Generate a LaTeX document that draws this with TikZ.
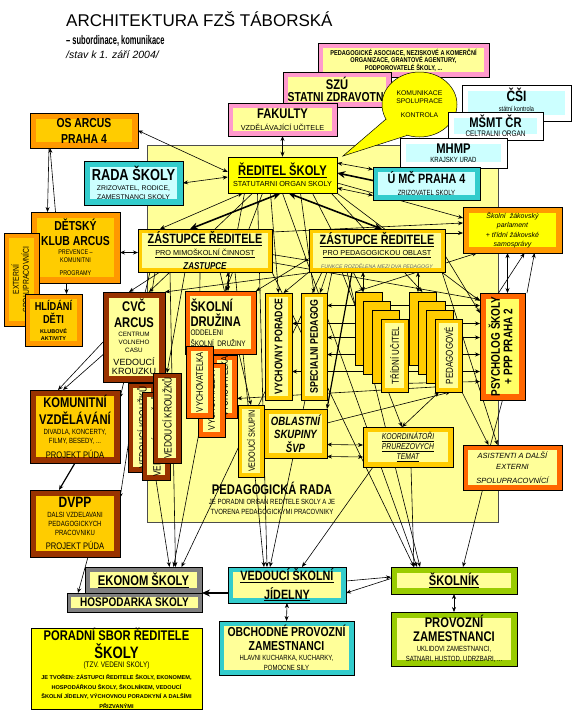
\documentclass[tikz,border=0pt]{standalone}
\usepackage{fontspec}
\usepackage{graphicx}
\setmainfont{Liberation Sans}
\newfontfamily\nar[FakeStretch=0.8]{Liberation Sans}
\newfontfamily\vnar[FakeStretch=0.6]{Liberation Sans}
\usetikzlibrary{arrows.meta,calc,shapes.geometric}
\pgfdeclarelayer{bgl}\pgfdeclarelayer{lnl}\pgfsetlayers{bgl,lnl,main}
\definecolor{cOr}{HTML}{FF9900}
\definecolor{cGo}{HTML}{FFCC00}
\definecolor{cLy}{HTML}{FFFF99}
\definecolor{cYe}{HTML}{FFFF00}
\definecolor{cBr}{HTML}{993300}
\definecolor{cRo}{HTML}{FF6600}
\definecolor{cTe}{HTML}{33CCCC}
\definecolor{cCy}{HTML}{CCFFFF}
\definecolor{cPk}{HTML}{FF99CC}
\definecolor{cGr}{HTML}{808080}
\definecolor{cGn}{HTML}{99CC00}
\definecolor{cPy}{HTML}{FFFF66}
\newcommand\hb[1]{\fontsize{#1}{#1}\selectfont\bfseries}
\newcommand\sm[1]{\fontsize{#1}{#1}\selectfont\mdseries\upshape}
\newcommand\sw[1]{\rmfamily\fontsize{#1}{#1}\selectfont\mdseries\upshape}
\newcommand\rot[1]{\rotatebox{90}{#1}}
\newcommand\tightf{\nar\fontsize{10}{0}\selectfont\lineskiplimit=0pt\lineskip=2pt}
\tikzset{
  bx/.style n args={3}{draw=black, line width=0.5pt, fill=#1, inner sep=0pt, outer sep=0pt,
    align=center, font=\tightf, text=black,
    path picture={\fill[#2] ([xshift=#3,yshift=-#3]path picture bounding box.north west)
      rectangle ([xshift=-#3,yshift=#3]path picture bounding box.south east);}},
  sz/.style 2 args={minimum width=#1pt, minimum height=#2pt},
  >={Stealth[length=5pt,width=4pt]},
  ln/.style={line width=0.6pt},
  tk/.style={line width=1.6pt, >={Stealth[length=8pt,width=7pt]}},
}
\begin{document}
\begin{tikzpicture}[x=1pt,y=-1pt]
\useasboundingbox (0,0) rectangle (573,716);
\begin{pgfonlayer}{bgl}
\fill[white] (0,0) rectangle (573,716);
\filldraw[fill=cLy, draw=black!70, line width=0.5pt] (147,145) rectangle (498,522);
\end{pgfonlayer}

% titles
\node[anchor=west, inner sep=0pt] (title) at (66,19) {\fontsize{17}{17}\selectfont ARCHITEKTURA FZŠ TÁBORSKÁ};
\node[anchor=west, inner sep=0pt] (sub) at (66,41) {\vnar\fontsize{12.5}{12}\selectfont\bfseries – subordinace, komunikace};
\node[anchor=west, inner sep=0pt] (stav) at (66,55) {\fontsize{10.5}{11}\selectfont\itshape /stav k 1. září 2004/};

% top boxes
\node[bx={cPk}{cLy}{5pt}, sz={171}{34}, font=\nar\fontsize{7}{7.5}\selectfont\bfseries] (assoc) at (403.5,60) {PEDAGOGICKÉ ASOCIACE, NEZISKOVÉ A KOMERČNÍ\\ORGANIZACE, GRANTOVÉ AGENTURY,\\PODPOROVATELÉ ŠKOLY, ...};
\node[bx={cPk}{cLy}{5pt}, sz={108}{35}] (szu) at (337,89.5) {\hb{14}SZÚ\\[1pt]\hb{13}STATNI ZDRAVOTNI};
\node[bx={cPk}{cLy}{5pt}, sz={109}{33}] (fak) at (282.5,119.5) {\hb{14}FAKULTY\\[3pt]\sw{7.3}VZDĚLÁVAJÍCÍ UČITELE};
\node[ellipse, draw=black, line width=0.5pt, fill=cYe, minimum width=75pt, minimum height=65pt, inner sep=0pt, align=center, font=\rmfamily\fontsize{6.8}{8}\selectfont] (bub) at (419.5,104.5) {KOMUNIKACE\\SPOLUPRACE\\[6pt]KONTROLA};
\fill[cYe] ($(bub.center)+(-33.5,14.6)$) -- (343,156) -- ($(bub.center)+(-12,30.8)$) -- cycle;
\draw[line width=0.5pt] ($(bub.center)+(-33.5,14.6)$) -- (343,156) -- ($(bub.center)+(-12,30.8)$);
\node[bx={white}{cCy}{6pt}, sz={109}{36}] (csi) at (516.5,103) {\hb{15}ČŠI\\[3pt]\sm{7}státní kontrola\\[5pt]};
\node[bx={white}{cCy}{6pt}, sz={95}{28}] (msmt) at (495.5,126) {\hb{14}MŠMT ČR\\[1pt]\sm{8}CELTRALNI ORGAN};
\node[bx={white}{cCy}{6pt}, sz={107}{30}] (mhmp) at (453.5,153) {\hb{14}MHMP\\[2pt]\sm{7.5}KRAJSKY URAD};
\node[bx={cTe}{cCy}{5pt}, sz={107}{33}] (umc) at (426.5,183.5) {\hb{13.5}Ú MČ PRAHA 4\\[4pt]\sm{7.5}ZRIZOVATEL SKOLY};
\node[draw=black, line width=0.5pt, fill=cYe, sz={109}{36}, inner sep=0pt, align=center, font=\tightf] (red) at (282.5,175) {\hb{14}\underline{ŘEDITEL ŠKOLY}\\[2pt]\sw{7.3}STATUTARNI ORGAN SKOLY};

% left column
\node[bx={cOr}{cGo}{6pt}, sz={108}{35}, font=\nar\fontsize{13}{16}\selectfont\bfseries] (osa) at (84,130.5) {OS ARCUS\\PRAHA 4};
\node[bx={cTe}{cCy}{6pt}, sz={99}{44}] (rada) at (133.5,183) {\hb{16}RADA ŠKOLY\\[3pt]\sw{6.8}ZRIZOVATEL, RODICE,\\[2pt]\sw{6.8}ZAMESTNANCI SKOLY};
\node[bx={cOr}{cGo}{6pt}, sz={89}{71}] (klub) at (75.5,247.5) {\hb{13}DĚTSKÝ\\[3pt]\hb{13}KLUB ARCUS\\[2pt]\sm{6.8}PREVENCE –\\[2pt]\sm{6.8}KOMUNITNI\\[6pt]\sm{6.8}PROGRAMY};
\node[bx={cOr}{cGo}{5pt}, sz={35}{93}] (ext) at (21.5,279.5) {\rot{\sm{8.5}\begin{tabular}{@{}c@{}}EXTERNÍ\\SPOLUPRACOVNÍCI\end{tabular}}};
\node[bx={cOr}{cGo}{5pt}, sz={57}{52}] (hlid) at (53.5,320) {\hb{11.5}HLÍDÁNÍ\\[1pt]\hb{11.5}DĚTI\\[3pt]\sw{5.5}\bfseries KLUBOVÉ\\[1pt]\sw{5.5}\bfseries AKTIVITY};
\node[bx={cBr}{cLy}{6pt}, sz={62}{90}] (cvc) at (134,337) {\hb{14}CVČ\\[4pt]\hb{14}ARCUS\\[2pt]\sw{6.3}CENTRUM\\[1.5pt]\sw{6.3}VOLNEHO\\[1.5pt]\sw{6.3}CASU\\[3pt]\sw{9}VEDOUCÍ\\[1pt]\sw{9}KROUZKU};
\node[bx={cBr}{cLy}{5pt}, sz={28}{89}] (k1) at (142,427.5) {\rot{\sm{10.5}VEDOUCÍ KROUŽKŮ}};
\node[bx={cBr}{cLy}{5pt}, sz={28}{88}] (k2) at (156,436) {\rot{\sm{10.5}VEDOUCÍ KROUŽKŮ}};
\node[bx={cBr}{cLy}{5pt}, sz={28}{90}] (k3) at (167,418) {\rot{\sm{10.5}VEDOUCÍ KROUŽKŮ}};
\node[bx={cBr}{cGo}{6pt}, sz={90}{73}] (kom) at (75,426.5) {\hb{14}KOMUNITNÍ\\[3pt]\hb{14}VZDĚLÁVÁNÍ\\[2pt]\sm{7.5}DIVADLA, KONCERTY,\\[1.5pt]\sm{7.5}FILMY, BESEDY, ...\\[3pt]\sm{9.5}PROJEKT PÚDA};
\node[bx={cBr}{cGo}{6pt}, sz={90}{67}] (dvpp) at (75,523.5) {\hb{15}DVPP\\[3pt]\sm{7.5}DALSI VZDELAVANI\\[1.5pt]\sm{7.5}PEDAGOGICKYCH\\[1.5pt]\sm{7.5}PRACOVNIKU\\[4pt]\sm{9.5}PROJEKT PÚDA};

% zástupci
\node[bx={cGo}{cLy}{4pt}, sz={134}{43}] (zl) at (205,250.5) {\hb{13.5}\underline{ZÁSTUPCE ŘEDITELE}\\[2pt]\sw{7.3}\underline{PRO MIMOŠKOLNÍ ČINNOST}\\[3pt]\hb{10}\itshape ZASTUPCE};
\node[bx={cGo}{cLy}{4pt}, sz={136}{43}] (zr) at (377,250.5) {\hb{13.5}\underline{ZÁSTUPCE ŘEDITELE}\\[2pt]\sw{7.3}\underline{PRO PEDAGOGICKOU OBLAST}\\[4pt]\sw{5.2}\itshape\color{black!60}FUNKCE ROZDĚLENA MEZI DVA PEDAGOGY};

% družina
\node[bx={cRo}{cLy}{5pt}, sz={71}{63}, text width=60pt, align=left] (druz) at (220.5,322.5) {\hb{14}ŠKOLNÍ\\[1pt]\hb{14}DRUŽINA\\[1pt]\sm{8}ODDELENI\\[3pt]\sm{8}ŠKOLNÍ DRUŽINY\\[6pt]};
\node[bx={cRo}{cLy}{5pt}, sz={25}{63}] (v3) at (224.5,386.5) {\rot{\sm{9.5}VYCHOVATELKA}};
\node[bx={cRo}{cLy}{5pt}, sz={27}{74}] (v2) at (211.5,400) {\rot{\sm{9.5}VYCHOVATELKA}};
\node[bx={cRo}{cLy}{5pt}, sz={27}{72}] (v1) at (199.5,382) {\rot{\sm{9.5}VYCHOVATELKA}};

% poradce etc
\node[bx={cGo}{cLy}{4pt}, sz={27}{107}] (vp) at (278.5,346.5) {\rot{\hb{11}VYCHOVNY PORADCE}};
\node[bx={cGo}{cLy}{4pt}, sz={26}{107}] (sp) at (314,346.5) {\rot{\hb{11}SPECIALNI PEDAGOG}};
\node[bx={cGo}{cLy}{4pt}, sz={26}{72}] (vs) at (251,441) {\rot{\sm{9}VEDOUCÍ SKUPIN}};
\node[bx={cGo}{cLy}{5pt}, sz={63}{49}, font=\nar\fontsize{12}{13.5}\selectfont\bfseries\itshape] (obl) at (295.5,433.5) {OBLASTNÍ\\SKUPINY\\ŠVP};

% stacks
\node[bx={cGo}{cGo}{4pt}, sz={27}{73}] (t1) at (368.5,328.5) {};
\node[bx={cGo}{cGo}{4pt}, sz={27}{73}] (t2) at (377,337.5) {};
\node[bx={cGo}{cGo}{4pt}, sz={27}{73}] (t3) at (385.5,346.5) {};
\node[bx={cGo}{cLy}{4pt}, sz={27}{73}] (t4) at (394.5,355.5) {\rot{\sm{10}TŘÍDNÍ UČITEL}};
\node[bx={cGo}{cGo}{4pt}, sz={27}{73}] (p1) at (422.5,328.5) {};
\node[bx={cGo}{cGo}{4pt}, sz={27}{73}] (p2) at (431.5,337.5) {};
\node[bx={cGo}{cGo}{4pt}, sz={27}{73}] (p3) at (439.5,346.5) {};
\node[bx={cGo}{cLy}{4pt}, sz={27}{73}] (p4) at (448.5,355.5) {\rot{\sm{10}PEDAGOGOVÉ}};

% right column
\node[bx={cOr}{cYe}{6pt}, sz={99}{46}, font=\rmfamily\fontsize{7}{9.5}\selectfont\itshape] (parl) at (512.5,230) {Školní~ žákovský\\parlament\\+ třídní žákovské\\samosprávy};
\node[bx={cRo}{cPy}{6pt}, sz={45}{107}] (psy) at (502.5,346.5) {\rot{\hb{12.5}\begin{tabular}{@{}c@{}}PSYCHOLOG ŠKOLY\\+ PPP PRAHA 2\end{tabular}}};
\node[bx={cGo}{cLy}{5pt}, sz={90}{40}, font=\nar\fontsize{8.5}{10}\selectfont\itshape] (koo) at (408,447) {\underline{KOORDINÁTOŘI}\\\underline{PRUREZOVYCH}\\\underline{TEMAT}};
\node[bx={cRo}{cLy}{5pt}, sz={99}{45}, font=\rmfamily\fontsize{7.5}{11}\selectfont\itshape] (asi) at (512.5,467.5) {ASISTENTI A DALŠÍ\\EXTERNI\\[3pt]SPOLUPRACOVNÍCÍ};

\node[inner sep=0pt, align=center, font=\tightf] (prada) at (272,498) {\hb{14}PEDAGOGICKÁ RADA\\[3pt]\sm{7.5}JE PORADNI ORGAN REDITELE SKOLY A JE\\[2pt]\sm{7.5}TVORENA PEDAGOGICKYMI PRACOVNIKY};

% bottom
\node[bx={cGr}{cLy}{5pt}, sz={117}{26}] (eko) at (143.5,580) {\hb{14}\underline{EKONOM ŠKOLY}};
\node[bx={cGr}{cLy}{4pt}, sz={135}{19}] (hosp) at (134.5,602.5) {\hb{12.5}HOSPODARKA SKOLY};
\node[bx={cTe}{cLy}{5pt}, sz={118}{36}] (jid) at (287,585) {\hb{13.5}\underline{VEDOUCÍ ŠKOLNÍ}\\[2pt]\hb{13.5}\underline{JÍDELNY}};
\node[bx={cTe}{cLy}{5pt}, sz={135}{54}] (obch) at (286.5,648) {\hb{13}OBCHODNÉ PROVOZNÍ\\[2pt]\hb{13}ZAMESTNANCI\\[3pt]\sm{7.5}HLAVNI KUCHARKA, KUCHARKY,\\[2pt]\sm{7.5}POMOCNE SILY};
\node[bx={cGn}{cLy}{6pt}, sz={126}{27}] (sko) at (454,580.5) {\hb{14}\underline{ŠKOLNÍK}};
\node[bx={cGn}{cLy}{6pt}, sz={126}{54}] (prov) at (454,639) {\hb{14}PROVOZNÍ\\[2pt]\hb{14}ZAMESTNANCI\\[3pt]\sm{7.5}UKLIDOVI ZAMESTNANCI,\\[2pt]\sm{7.5}SATNARI, HUSTOD, UDRZBARI, ...};
\node[draw=black, line width=0.5pt, fill=cYe, sz={171}{81}, inner sep=0pt, align=center, font=\tightf] (por) at (116.5,668.5) {\hb{14}PORADNÍ SBOR ŘEDITELE\\[1pt]\hb{16.5}ŠKOLY\\[1pt]\sm{8}(TZV. VEDENI SKOLY)\\[3pt]\sw{5.6}\bfseries JE TVOŘEN: ZÁSTUPCI ŘEDITELE ŠKOLY, EKONOMEM,\\[2pt]\sw{5.6}\bfseries HOSPODÁŘKOU ŠKOLY, ŠKOLNÍKEM, VEDOUCÍ\\[2pt]\sw{5.6}\bfseries ŠKOLNÍ JÍDELNY, VÝCHOVNOU PORADKYNÍ A DALŠÍMI\\[2pt]\sw{5.6}\bfseries PŘIZVANÝMI};

\begin{pgfonlayer}{lnl}
\begin{scope}[ln]
% top
\draw[<->] (osa.east) -- ($(red.west)+(0,-3)$);
\draw[<->] (rada.east) -- ($(red.west)+(0,2)$);
\draw[->] ($(osa.south)+(-35,0)$) -- ($(klub.north)+(-28,0)$);
\draw[->] ($(klub.north)+(-20,0)$) -- ($(osa.south)+(-34,0)$);
\draw[<->] ($(klub.east)+(0,5)$) -- ($(zl.west)+(0,2)$);
\draw[->] ($(klub.south)+(-9,0)$) -- ($(hlid.north)+(13,0)$);
\draw[<->] (fak.south) -- (red.north);
\draw[<->] ($(umc.west)+(0,-14)$) -- ($(red.east)+(0,-12)$);
\draw[->,tk] ($(umc.west)+(0,-3)$) -- ($(red.east)+(0,-2)$);
\draw[<->] ($(umc.west)+(0,12)$) -- ($(red.east)+(0,13)$);
% reditel fan
\draw[<->,tk] ($(red.south)+(-2,0)$) -- ($(zl.north)+(-15,0)$);
\draw[<->,tk] ($(red.south)+(6,0)$) -- ($(zr.north)+(5,0)$);
\draw[<->] ($(red.south)+(-40,0)$) -- ($(zl.north)+(-45,0)$);
\draw[->] ($(red.south)+(-30,0)$) -- ($(cvc.north)+(15,0)$);
\draw[->] ($(red.south)+(-20,0)$) -- ($(druz.north)+(5,0)$);
\draw[->] ($(red.south)+(-12,0)$) -- (vp.north);
\draw[->] ($(red.south)+(18,0)$) -- (sp.north);
\draw[->] ($(red.south)+(30,0)$) -- ($(t1.north)+(-5,0)$);
\draw[->] ($(red.south east)+(-6,0)$) -- (p1.north);
\draw[->] ($(red.east)+(0,8)$) -- ($(parl.west)+(0,-12)$);
\draw[->] (red.south east) -- ($(psy.north west)+(0,8)$);
\draw[->] ($(red.south)+(-38,0)$) -- ($(eko.north)+(30,0)$);
\draw[->] ($(red.south)+(-25,0)$) -- ($(jid.north)+(-20,0)$);
\draw[->] (red.south) -- ($(sko.north)+(-37,0)$);
% zl fan
\draw[->] ($(zl.south)+(-45,0)$) -- ($(cvc.north)+(-5,0)$);
\draw[<->] ($(zl.south)+(23,0)$) -- ($(druz.north)+(7.5,0)$);
\draw[->] ($(zl.south)+(-20,0)$) -- (k3.north);
\draw[->] ($(zl.south)+(-5,0)$) -- (v1.north);
\draw[->] ($(zl.south)+(-55,0)$) -- ($(kom.north east)+(0,8)$);
\draw[->] ($(zl.south)+(-50,0)$) -- ($(dvpp.north east)+(0,8)$);
\draw[->] ($(zl.south)+(-35,0)$) -- ($(eko.north)+(32,0)$);
\draw[->] ($(zl.south)+(30,0)$) -- ($(jid.north)+(-23,0)$);
\draw[->] (zl.south east) -- ($(sko.north)+(-40,0)$);
\draw[->] ($(zl.east)+(0,12)$) -- ($(psy.west)+(0,-47)$);
\draw[->] ($(zl.north east)+(0,3)$) -- ($(parl.west)+(0,-7)$);
\draw[->] ($(zl.east)+(0,4)$) -- ($(zr.west)+(0,10)$);
\draw[->] ($(zl.south)+(15,0)$) -- (vs.north);
% zr fan
\draw[<->] ($(zr.south)+(-14,0)$) -- ($(t1.north)+(-5.5,0)$);
\draw[<->] ($(zr.south)+(41,0)$) -- ($(p1.north)+(-4.5,0)$);
\draw[->] (zr.south west) -- ($(vp.north)+(5,0)$);
\draw[->] ($(zr.south)+(-50,0)$) -- ($(sp.north)+(6,0)$);
\draw[->] ($(zr.south west)+(6,0)$) -- (cvc.north east);
\draw[->] ($(zr.west)+(0,8)$) -- (druz.north east);
\draw[->] ($(zr.south)+(-35,0)$) -- ($(koo.north)+(-6,0)$);
\draw[->,line width=1.2pt] ($(zr.south)+(-25,0)$) -- (obl.north east);
\draw[->] ($(zr.south east)+(-3,0)$) -- ($(asi.north)+(-15,0)$);
\draw[->] ($(zr.east)+(0,5)$) -- ($(psy.north west)+(0,20)$);
\draw[->] ($(zr.north east)+(0,4)$) -- ($(parl.west)+(0,3)$);
\draw[->] ($(zr.south)+(-55,0)$) -- ($(eko.north)+(38,0)$);
\draw[->] ($(zr.south)+(-45,0)$) -- ($(jid.north)+(-17,0)$);
\draw[->] ($(zr.south)+(-30,0)$) -- ($(sko.north)+(-34,0)$);
% middle horizontals
\draw[<->] ($(psy.west)+(0,-41)$) -- ($(sp.east)+(0,-41)$);
\draw[<->] ($(psy.west)+(0,-23)$) -- ($(vp.east)+(0,-23)$);
\draw[<->] ($(psy.west)+(0,-9)$) -- ($(sp.east)+(0,-9)$);
\draw[<->] ($(psy.west)+(0,8)$) -- ($(sp.east)+(0,8)$);
\draw[<->] ($(psy.west)+(0,25)$) -- ($(vp.east)+(0,25)$);
\draw[->] ($(t4.south west)+(0,-8)$) -- ($(psy.west)+(0,35)$);
\draw[->] ($(p4.south)+(3,-6)$) -- ($(v3.east)+(0,12)$);
% lower middle
\draw[<->] ($(obl.east)+(0,11)$) -- ($(koo.west)+(0,-2)$);
\draw[<->] ($(obl.east)+(0,23)$) -- ($(koo.west)+(0,10)$);
\draw[<->] ($(koo.north)+(-6,0)$) -- ($(p4.south west)+(4,0)$);
\draw[->] ($(obl.north east)+(0,14)$) -- ($(p4.south)+(2,0)$);
\draw[->] (p4.south east) -- ($(asi.north)+(-24,0)$);
\draw (psy.south) -- ($(asi.north)+(-22,0)$);
\draw[->] ($(asi.south)+(-30,0)$) -- ($(sko.north)+(9,0)$);
\draw[->] ($(koo.south west)+(10,0)$) -- ($(jid.north east)+(-44,0)$);
\draw[->] ($(koo.south)+(3,0)$) -- ($(sko.north)+(-40,0)$);
% parlament - psycholog
\draw[<->] ($(parl.south)+(-5,0)$) -- ($(psy.north)+(5,0)$);
\draw[->] ($(psy.north)+(-4,0)$) -- ($(parl.south)+(12,0)$);
\draw[->] ($(psy.north east)+(2,0)$) -- ($(parl.south)+(22,0)$);
\draw[->] (t1.north west) -- ($(parl.south west)+(14,0)$);
% left bottom
\draw[->] ($(cvc.west)+(0,5)$) -- ($(kom.north)+(-17,0)$);
\draw[->] ($(cvc.south west)+(3,-30)$) -- ($(kom.north)+(-12,0)$);
\draw[->,line width=1.2pt] (kom.south) -- ($(dvpp.north)+(-16,0)$);
\draw[->] ($(dvpp.south)+(13,0)$) -- ($(hosp.north west)+(11,0)$);
\draw[->,tk] ($(jid.west)+(0,8)$) -- (hosp.north east);
\draw[->] ($(jid.east)+(0,-4)$) -- ($(sko.west)+(0,-3.5)$);
\draw[->] ($(sko.west)+(0,-2)$) -- ($(jid.east)+(0,8)$);
\draw[<->] (jid.south) -- (obch.north);
\draw[<->] (sko.south) -- (prov.north);
\draw[->] (k2.south) -- ($(eko.north)+(26,0)$);
\end{scope}
\end{pgfonlayer}
\end{tikzpicture}
\end{document}
